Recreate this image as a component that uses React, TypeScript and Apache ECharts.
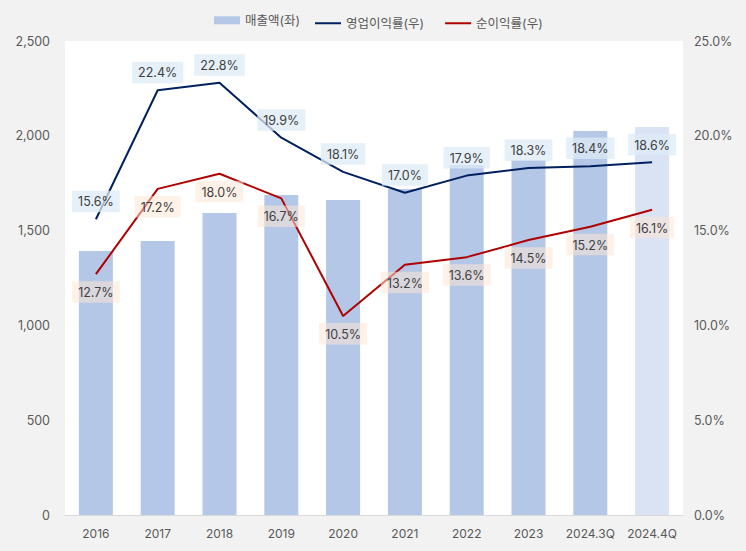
import React, { useEffect, useRef } from "react";
import * as echarts from "echarts";

const categories = ["2016", "2017", "2018", "2019", "2020", "2021", "2022", "2023", "2024.3Q", "2024.4Q"];
const revenue = [1392, 1445, 1593, 1688, 1661, 1719, 1846, 1872, 2025, 2046];
const opMargin = [15.6, 22.4, 22.8, 19.9, 18.1, 17.0, 17.9, 18.3, 18.4, 18.6];
const netMargin = [12.7, 17.2, 18.0, 16.7, 10.5, 13.2, 13.6, 14.5, 15.2, 16.1];
const seriesNames = ["매출액(좌)", "영업이익률(우)", "순이익률(우)"];

const FONT = "Inter, 'Noto Sans CJK KR', 'Noto Sans', sans-serif";

export default function App() {
  const ref = useRef<HTMLDivElement>(null);
  useEffect(() => {
    if (!ref.current) return;
    const chart = echarts.init(ref.current, null, { renderer: "svg" });
    const barData = revenue.map((v, i) => ({
      value: v,
      itemStyle: { color: i === revenue.length - 1 ? "#dae3f3" : "#b4c7e7" },
    }));
    const legendText = { color: "#595959", fontSize: 12.5, fontFamily: FONT };
    const mkLabel = (pos: string, bg: string) => ({
      show: true,
      position: pos,
      distance: 7,
      formatter: (p: any) => Number(p.value).toFixed(1) + "%",
      color: "#404040",
      fontSize: 12.5,
      fontFamily: FONT,
      backgroundColor: bg,
      padding: [5, 6, 4, 6],
    });
    chart.setOption({
      animation: false,
      backgroundColor: "#f2f2f2",
      textStyle: { fontFamily: FONT },
      legend: [
        {
          top: 14,
          left: 214,
          padding: 0,
          itemWidth: 26,
          itemHeight: 8,
          icon: "rect",
          textStyle: legendText,
          data: [seriesNames[0]],
        },
        {
          top: 17,
          left: 315,
          padding: 0,
          itemWidth: 26,
          itemHeight: 2,
          itemGap: 21,
          icon: "rect",
          textStyle: legendText,
          data: [seriesNames[1], seriesNames[2]],
        },
      ],
      grid: {
        left: 65,
        right: 63,
        top: 41,
        bottom: 36,
        show: true,
        backgroundColor: "#ffffff",
        borderWidth: 0,
      },
      xAxis: {
        type: "category",
        data: categories,
        axisLine: { lineStyle: { color: "#d9d9d9" } },
        axisTick: { show: false },
        axisLabel: { color: "#595959", fontSize: 12, margin: 12, interval: 0, fontFamily: FONT },
      },
      yAxis: [
        {
          type: "value",
          min: 0,
          max: 2500,
          interval: 500,
          splitLine: { show: false },
          axisLine: { show: false },
          axisTick: { show: false },
          axisLabel: {
            color: "#595959",
            fontSize: 12.5,
            margin: 15,
            fontFamily: FONT,
            formatter: (v: number) => v.toLocaleString("en-US"),
          },
        },
        {
          type: "value",
          min: 0,
          max: 25,
          interval: 5,
          splitLine: { show: false },
          axisLine: { show: false },
          axisTick: { show: false },
          axisLabel: {
            color: "#595959",
            fontSize: 12.5,
            margin: 11,
            fontFamily: FONT,
            formatter: (v: number) => v.toFixed(1) + "%",
          },
        },
      ],
      series: [
        {
          name: seriesNames[0],
          type: "bar",
          data: barData,
          barWidth: "55%",
          itemStyle: { color: "#b4c7e7" },
        },
        {
          name: seriesNames[1],
          type: "line",
          yAxisIndex: 1,
          data: opMargin,
          showSymbol: true,
          symbol: "circle",
          symbolSize: 0.1,
          lineStyle: { color: "#002060", width: 2 },
          itemStyle: { color: "#002060" },
          label: mkLabel("top", "rgba(222,235,247,0.75)"),
        },
        {
          name: seriesNames[2],
          type: "line",
          yAxisIndex: 1,
          data: netMargin,
          showSymbol: true,
          symbol: "circle",
          symbolSize: 0.1,
          lineStyle: { color: "#b00000", width: 2 },
          itemStyle: { color: "#b00000" },
          label: mkLabel("bottom", "rgba(251,229,214,0.55)"),
        },
      ],
    });
    return () => chart.dispose();
  }, []);
  return <div ref={ref} style={{ width: 746, height: 551, position: "absolute", left: 0, top: 0 }} />;
}
